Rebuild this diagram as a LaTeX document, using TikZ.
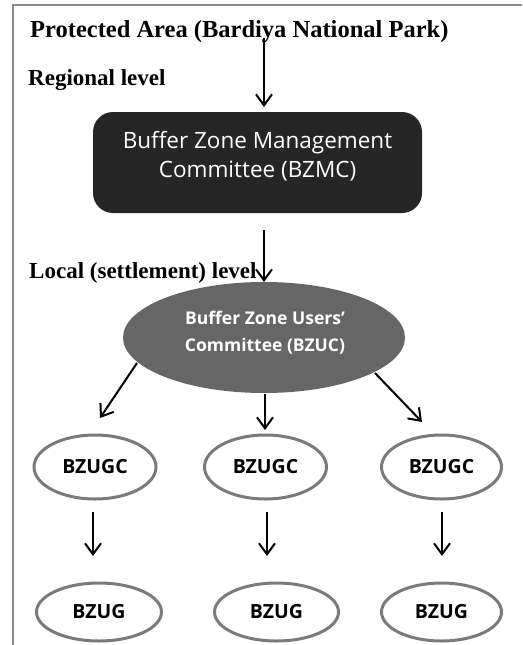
\documentclass[tikz,border=0pt]{standalone}
\usepackage{fontspec}
\setmainfont{Liberation Serif}
\newfontfamily\osans[Ligatures=NoCommon]{Open Sans}
\usetikzlibrary{shapes.geometric,arrows.meta}
\definecolor{framegray}{HTML}{8A8A8A}
\definecolor{darkbox}{HTML}{262626}
\definecolor{midgray}{HTML}{666666}
\definecolor{ringgray}{HTML}{7A7A7A}
\tikzset{
  lvl/.style={anchor=base west,inner sep=0pt,font=\bfseries\fontsize{23}{26}\selectfont},
  arr/.style={line width=2pt,-{Straight Barb[length=11pt,width=16pt,line width=2pt]}},
  ring/.style={ellipse,draw=ringgray,line width=3pt,fill=white,inner sep=0pt,
    font=\osans\bfseries\fontsize{19.5}{24}\selectfont},
}
\begin{document}
\begin{tikzpicture}[x=1pt,y=-1pt]
\useasboundingbox (0,0) rectangle (522,645);
% frame
\draw[framegray,line width=1.5pt] (13,645) -- (13,5) -- (522,5);
% level labels
\node[lvl,font=\bfseries\fontsize{24.5}{28}\selectfont] (title) at (30,37) {Protected Area (Bardiya National Park)};
\node[lvl] (regional) at (28,85) {Regional level};
\node[lvl] (local) at (29,278) {Local (settlement) level};
% BZMC
\node[draw=none,fill=darkbox,rounded corners=20pt,minimum width=329pt,minimum height=101pt,inner sep=0pt] (bzmc) at (257.5,162.5) {};
\node[text=white,align=center,font=\osans\fontsize{22.5}{29}\selectfont,inner sep=0pt] (bzmctext) at (257.5,156) {Buffer Zone Management\\Committee (BZMC)};
% BZUC
\node[ellipse,fill=midgray,minimum width=282pt,minimum height=111pt,inner sep=0pt] (bzuc) at (264,337.5) {};
\node[text=white,align=center,font=\osans\bfseries\fontsize{17.5}{27}\selectfont,inner sep=0pt] (bzuctext) at (265,333) {Buffer Zone Users’\\Committee (BZUC)};
% BZUGC
\node[ring,minimum width=122pt,minimum height=64pt] (c1) at (95,467) {BZUGC};
\node[ring,minimum width=122pt,minimum height=64pt] (c2) at (265.5,467) {BZUGC};
\node[ring,minimum width=120pt,minimum height=64pt] (c3) at (441.5,467) {BZUGC};
% BZUG
\node[ring,minimum width=125pt,minimum height=58pt] (g1) at (99,612) {BZUG};
\node[ring,minimum width=124pt,minimum height=58pt] (g2) at (276.5,612) {BZUG};
\node[ring,minimum width=120pt,minimum height=58pt] (g3) at (441.5,612) {BZUG};
% arrows
\coordinate (a1s) at (264,38);
\coordinate (a1e) at (264,107);
\coordinate (a2s) at (264,230);
\coordinate (a2e) at (264,282);
\draw[arr] (a1s) -- (a1e);
\draw[arr] (a2s) -- (a2e);
\coordinate (l1s) at (137,363); \coordinate (l1e) at (100,418);
\coordinate (m1s) at (265,394); \coordinate (m1e) at (265,430);
\coordinate (r1s) at (375,373); \coordinate (r1e) at (422,422);
\draw[arr] (l1s) -- (l1e);
\draw[arr] (m1s) -- (m1e);
\draw[arr] (r1s) -- (r1e);
\coordinate (d1s) at (93,512); \coordinate (d1e) at (93,556);
\coordinate (d2s) at (267,512); \coordinate (d2e) at (267,556);
\coordinate (d3s) at (442,512); \coordinate (d3e) at (442,556);
\draw[arr] (d1s) -- (d1e);
\draw[arr] (d2s) -- (d2e);
\draw[arr] (d3s) -- (d3e);
\end{tikzpicture}
\end{document}
